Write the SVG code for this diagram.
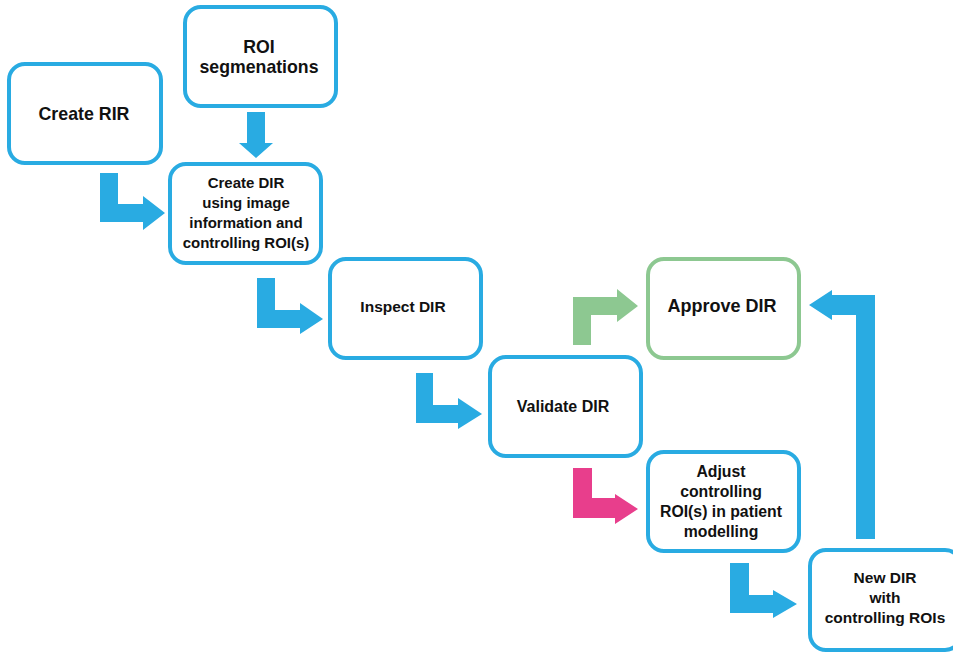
<svg xmlns="http://www.w3.org/2000/svg" width="953" height="652" viewBox="0 0 953 652">
<style>
.box{fill:#fff;stroke:#29abe2;stroke-width:4}
.gbox{fill:#fff;stroke:#8dc891;stroke-width:4}
.t{font-family:"Liberation Sans",Arial,sans-serif;font-weight:bold;fill:#111;text-anchor:middle}
.blue{fill:#29abe2}
.green{fill:#8dc891}
.pink{fill:#e83e8c}
</style>
<rect width="953" height="652" fill="#fff"/>
<g id="connectors">
<path class="blue" d="M247,112 L265,112 L265,143 L273,143 L256,158 L239,143 L247,143 Z"/>
<path class="blue" d="M100,173 L118,173 L118,204 L143,204 L143,196 L165,213 L143,230 L143,222 L100,222 Z"/>
<path class="blue" d="M257,278 L275,278 L275,310 L300,310 L300,303 L323,319 L300,334 L300,328 L257,328 Z"/>
<path class="blue" d="M416,373 L433,373 L433,405 L458,405 L458,398 L482,414 L458,429 L458,423 L416,423 Z"/>
<path class="green" d="M573,345 L573,297 L617,297 L617,289 L638,306 L617,322 L617,315 L591,315 L591,345 Z"/>
<path class="pink" d="M573,468 L592,468 L592,498 L615,498 L615,494 L638,509 L615,524 L615,518 L573,518 Z"/>
<path class="blue" d="M730,563 L749,563 L749,595 L773,595 L773,590 L797,604 L773,618 L773,613 L730,613 Z"/>
<path class="blue" d="M856,539 L856,315 L832,315 L832,320 L809,305 L832,290 L832,295 L875,295 L875,539 Z"/>
</g>
<g id="create-rir">
<rect class="box" x="9" y="64" width="152" height="99" rx="16"/>
<text class="t" x="84" y="120" font-size="17.8">Create RIR</text>
</g>
<g id="roi-seg">
<rect class="box" x="185" y="7" width="151" height="99" rx="16"/>
<text class="t" x="259" y="53" font-size="17.7">ROI</text>
<text class="t" x="259" y="73" font-size="17.7">segmenations</text>
</g>
<g id="create-dir">
<rect class="box" x="170" y="164" width="151" height="99" rx="16"/>
<text class="t" font-size="15"><tspan x="246" y="188">Create DIR</tspan><tspan x="246" y="208">using image</tspan><tspan x="246" y="228">information and</tspan><tspan x="246" y="248">controlling ROI(s)</tspan></text>
</g>
<g id="inspect-dir">
<rect class="box" x="330" y="259" width="151" height="99" rx="16"/>
<text class="t" x="403" y="312" font-size="15.5">Inspect DIR</text>
</g>
<g id="validate-dir">
<rect class="box" x="490" y="357" width="151" height="99" rx="16"/>
<text class="t" x="563" y="412" font-size="16">Validate DIR</text>
</g>
<g id="approve-dir">
<rect class="gbox" x="648" y="259" width="151" height="99" rx="16"/>
<text class="t" x="722" y="312" font-size="18">Approve DIR</text>
</g>
<g id="adjust">
<rect class="box" x="648" y="452" width="151" height="99" rx="16"/>
<text class="t" font-size="15.8"><tspan x="721" y="477">Adjust</tspan><tspan x="721" y="497">controlling</tspan><tspan x="721" y="517">ROI(s) in patient</tspan><tspan x="721" y="537">modelling</tspan></text>
</g>
<g id="new-dir">
<rect class="box" x="810" y="550" width="151" height="100" rx="16"/>
<text class="t" font-size="15.5"><tspan x="885" y="583">New DIR</tspan><tspan x="885" y="603">with</tspan><tspan x="885" y="623">controlling ROIs</tspan></text>
</g>
</svg>
